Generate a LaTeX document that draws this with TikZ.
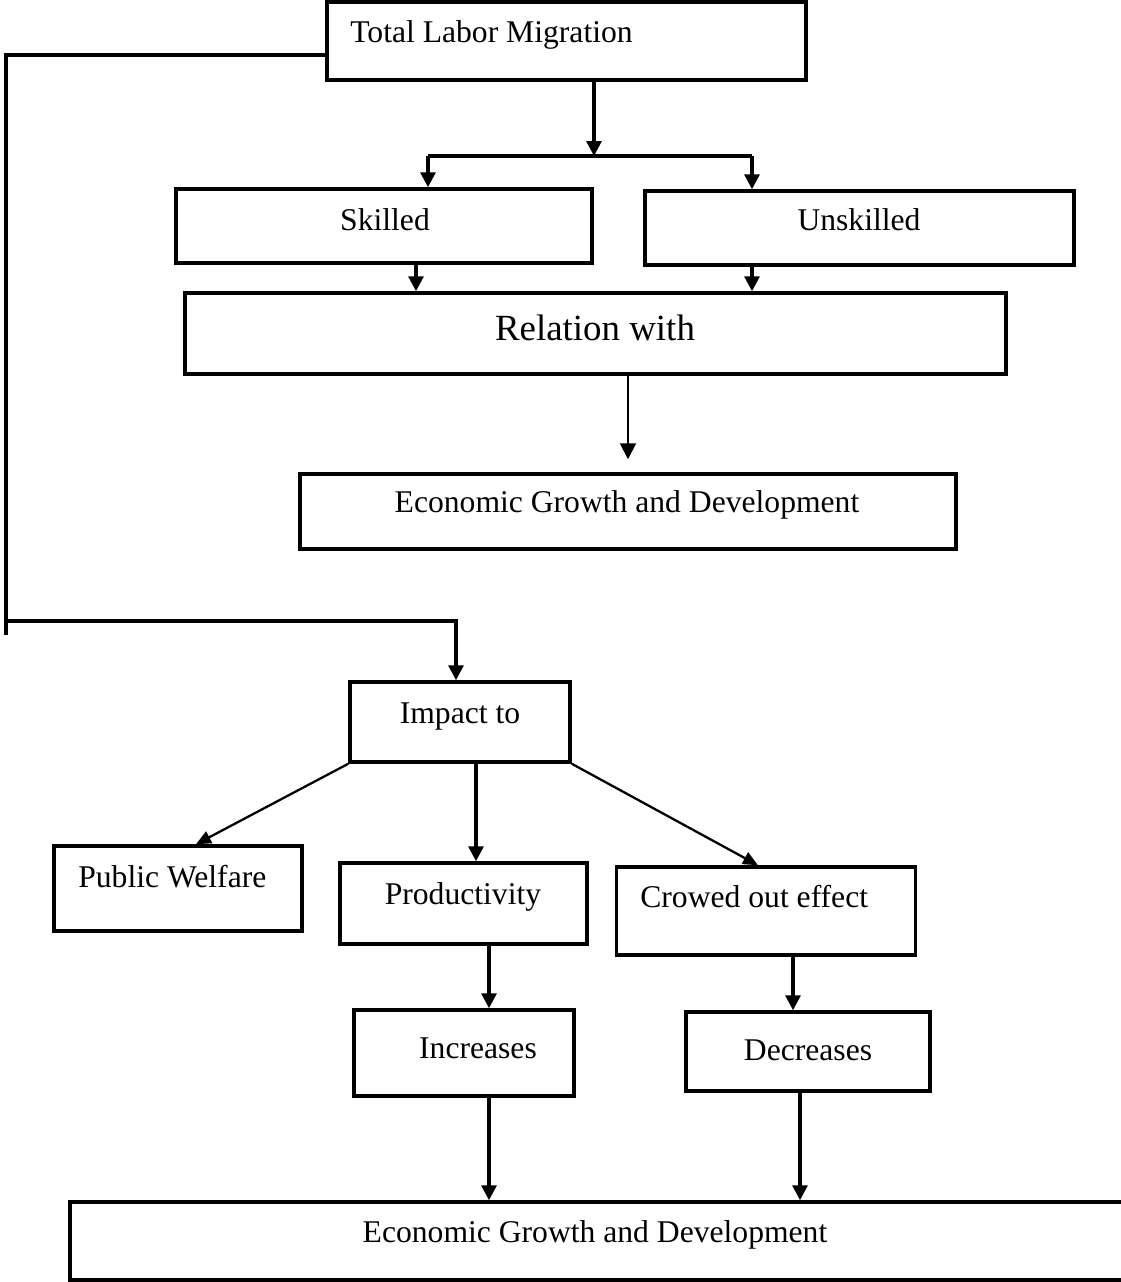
\documentclass[tikz,border=0pt]{standalone}
\usepackage{fontspec}
\setmainfont{Liberation Serif}
\usetikzlibrary{arrows.meta,calc}
\tikzset{
  box/.style={draw, line width=2pt, rectangle, inner sep=0pt},
  lbl/.style={anchor=base, inner sep=0pt, font=\fontsize{18}{22}\selectfont},
  ln/.style={line width=1.8pt},
  arr/.style={line width=1.8pt, -{Triangle[length=0.3cm,width=0.3cm]}},
  thinarr/.style={line width=1.1pt, -{Triangle[length=0.32cm,width=0.32cm]}},
  diagarr/.style={line width=1.3pt, -{Triangle[length=0.3cm,width=0.26cm]}}
}
\begin{document}
\begin{tikzpicture}[x=0.02cm,y=-0.02cm]
        \useasboundingbox (0,0) rectangle (1121,1282);
        % Draw the boxes
        \node[box, minimum width=9.58cm, minimum height=1.56cm] (tlm) at (566.5,41) {};
        \node[box, minimum width=8.32cm, minimum height=1.48cm] (skl) at (384,226) {};
        \node[box, minimum width=8.58cm, minimum height=1.48cm] (uns) at (859.5,228) {};
        \node[box, minimum width=16.42cm, minimum height=1.62cm] (rel) at (595.5,333.5) {};
        \node[box, minimum width=13.12cm, minimum height=1.5cm] (egd1) at (628,511.5) {};
        \node[box, minimum width=4.4cm, minimum height=1.6cm] (imp) at (460,722) {};
        \node[box, minimum width=4.96cm, minimum height=1.7cm] (pwf) at (178,888.5) {};
        \node[box, minimum width=4.94cm, minimum height=1.62cm] (prd) at (463.5,903.5) {};
        \node[box, minimum width=5.98cm, minimum height=1.76cm] (cro) at (766,911) {};
        \node[box, minimum width=4.4cm, minimum height=1.72cm] (inc) at (464,1053) {};
        \node[box, minimum width=4.88cm, minimum height=1.58cm] (dec) at (808,1051.5) {};
        \node[box, minimum width=21.2cm, minimum height=1.56cm] (egd2) at (600,1241) {};
        % Label the boxes
        \node[lbl, anchor=base west] (tlm-t) at (350,42) {Total Labor Migration};
        \node[lbl] (skl-t) at (385,230) {Skilled};
        \node[lbl] (uns-t) at (859,230) {Unskilled};
        \node[lbl, font=\fontsize{21}{25}\selectfont] (rel-t) at (595,340) {Relation with};
        \node[lbl] (egd1-t) at (627,512) {Economic Growth and Development};
        \node[lbl] (imp-t) at (460,723) {Impact to};
        \node[lbl, anchor=base west] (pwf-t) at (78,887) {Public Welfare};
        \node[lbl] (prd-t) at (463,904) {Productivity};
        \node[lbl, anchor=base west] (cro-t) at (640,907) {Crowed out effect};
        \node[lbl] (inc-t) at (478,1058) {Increases};
        \node[lbl] (dec-t) at (808,1060) {Decreases};
        \node[lbl] (egd2-t) at (595,1242) {Economic Growth and Development};
        % Define points
        \coordinate (split) at (594,156);
        \coordinate (sl) at (428,156);
        \coordinate (sr) at (752,156);
        \coordinate (ska) at (416,0);
        \coordinate (una) at (752,0);
        \coordinate (rla) at (628,0);
        \coordinate (lt) at (6,55);
        \coordinate (lb) at (6,635);
        \coordinate (lh) at (6,621);
        \coordinate (lr) at (456,621);
        \coordinate (pwa) at (196,0);
        \coordinate (pra) at (476,0);
        \coordinate (cra) at (758,0);
        \coordinate (ia) at (489,0);
        \coordinate (da) at (793,0);
        \coordinate (ea) at (800,0);
        % Upper part
        \draw[arr] (tlm.south -| split) -- (split);
        \draw[ln] (sl) -- (sr);
        \draw[arr] (sl) -- (sl |- skl.north);
        \draw[arr] (sr) -- (sr |- uns.north);
        \draw[arr] (skl.south -| ska) -- (rel.north -| ska);
        \draw[arr] (uns.south -| una) -- (rel.north -| una);
        \draw[thinarr, shorten >=0.26cm] (rel.south -| rla) -- (egd1.north -| rla);
        % Line on the left
        \draw[ln] (tlm.west |- lt) -- (lt) -- (lb);
        \draw[arr] (lh) -- (lr) -- (lr |- imp.north);
        % Lower part
        \draw[diagarr] (imp.south west) -- (pwf.north -| pwa);
        \draw[arr] (imp.south -| pra) -- (prd.north -| pra);
        \draw[diagarr] (imp.south east) -- (cro.north -| cra);
        \draw[arr] (prd.south -| ia) -- (inc.north -| ia);
        \draw[arr] (cro.south -| da) -- (dec.north -| da);
        \draw[arr] (inc.south -| ia) -- (egd2.north -| ia);
        \draw[arr] (dec.south -| ea) -- (egd2.north -| ea);
      \end{tikzpicture}
\end{document}
